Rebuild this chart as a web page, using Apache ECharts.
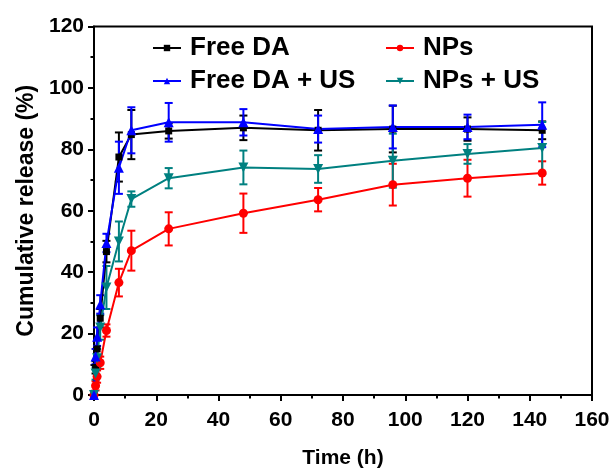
<!DOCTYPE html>
<html>
<head>
<meta charset="utf-8">
<script src="https://cdn.jsdelivr.net/npm/echarts@6/dist/echarts.min.js"></script>
<style>
html,body{margin:0;padding:0;background:#fff;}
#chart{width:609px;height:468px;}
</style>
</head>
<body>
<div id="chart"></div>
<script>
// ---- data ----
var times = [0, 0.5, 1, 2, 4, 8, 12, 24, 48, 72, 96, 120, 144];

var freeDA      = [0, 9, 15, 25, 46.7, 77.5, 84.8, 86, 87, 86.2, 86.6, 86.6, 86.2];
var freeDAErr   = [0, 2, 3, 3, 3.5, 8, 8, 2.5, 4, 6.6, 7.6, 3.8, 2.9];

var freeDAUS    = [0, 12.5, 19, 29.5, 49.5, 74, 86.2, 88.8, 88.8, 86.6, 87.3, 87.3, 88];
var freeDAUSErr = [0, 2.5, 3, 3, 3, 8.5, 7.5, 6.3, 4.3, 4.4, 7, 4, 7.3];

var nps         = [0, 3, 6, 10.5, 21, 36.6, 47, 54.1, 59.2, 63.6, 68.5, 70.6, 72.3];
var npsErr      = [0, 1.5, 2, 2, 2, 4.5, 6.5, 5.4, 6.4, 3.8, 6.8, 6, 3.8];

var npsUS       = [0, 7, 12, 22, 35, 50, 63.8, 70.6, 74.1, 73.6, 76.3, 78.5, 80.4];
var npsUSErr    = [0, 2, 3, 4, 7, 6.5, 2.5, 3.3, 5.5, 4.5, 8.8, 3.2, 8.5];

var xTicks = [0, 20, 40, 60, 80, 100, 120, 140, 160];
var yTicks = [0, 20, 40, 60, 80, 100, 120];

// ---- helpers ----
function pts(vals) { return times.map(function (t, i) { return [t, vals[i]]; }); }
function errs(vals, e) { return times.map(function (t, i) { return [t, vals[i] - e[i], vals[i] + e[i]]; }); }

function errSeries(name, vals, e, color, z) {
  return {
    name: name,
    type: 'custom',
    z: z,
    silent: true,
    encode: { x: 0, y: [1, 2] },
    data: errs(vals, e),
    renderItem: function (params, api) {
      var x = api.value(0), lo = api.value(1), hi = api.value(2);
      if (hi - lo <= 0) return null;
      var p1 = api.coord([x, lo]), p2 = api.coord([x, hi]);
      var w = 4;
      var st = { stroke: color, lineWidth: 2 };
      return {
        type: 'group',
        children: [
          { type: 'line', shape: { x1: p1[0], y1: p1[1], x2: p2[0], y2: p2[1] }, style: st },
          { type: 'line', shape: { x1: p1[0] - w, y1: p1[1], x2: p1[0] + w, y2: p1[1] }, style: st },
          { type: 'line', shape: { x1: p2[0] - w, y1: p2[1], x2: p2[0] + w, y2: p2[1] }, style: st }
        ]
      };
    }
  };
}

function lineSeries(name, vals, color, symbol, size, z, rotate) {
  return {
    name: name,
    type: 'line',
    z: z,
    data: pts(vals),
    symbol: symbol,
    symbolSize: size,
    symbolRotate: rotate || 0,
    showAllSymbol: true,
    lineStyle: { color: color, width: 2 },
    itemStyle: { color: color },
    emphasis: { disabled: true },
    animation: false
  };
}

var font = 'Liberation Sans, Arial, sans-serif';
var axisCommon = {
  axisLine: { show: true, onZero: false, lineStyle: { color: '#000', width: 2 } },
  axisTick: { show: true, inside: false, length: 6, lineStyle: { color: '#000', width: 2 } },
  minorTick: { show: true, splitNumber: 2, length: 3.5, lineStyle: { color: '#000', width: 2 } },
  splitLine: { show: false },
  minorSplitLine: { show: false },
  axisLabel: { color: '#000', fontSize: 21, fontWeight: 'bold', fontFamily: font }
};

var legendText = { color: '#000', fontSize: 26, fontWeight: 'bold', fontFamily: font, padding: [0, 0, 6, 4] };

var option = {
  animation: false,
  backgroundColor: '#fff',
  grid: { left: 94, right: 17, top: 26.5, bottom: 73, show: true, borderColor: '#000', borderWidth: 2,
          containLabel: false, outerBoundsMode: 'none' },
  legend: [
    { left: 147, top: 30, orient: 'vertical', itemWidth: 28, itemHeight: 8, itemGap: 7,
      data: ['Free DA', 'Free DA + US'], textStyle: legendText, selectedMode: false },
    { left: 380, top: 30, orient: 'vertical', itemWidth: 28, itemHeight: 8, itemGap: 7,
      data: ['NPs', 'NPs + US'], textStyle: legendText, selectedMode: false }
  ],
  xAxis: Object.assign({}, axisCommon, {
    type: 'value', min: xTicks[0], max: xTicks[xTicks.length - 1], interval: xTicks[1] - xTicks[0],
    name: 'Time (h)', nameLocation: 'middle', nameGap: 53,
    nameTextStyle: { color: '#000', fontSize: 21, fontWeight: 'bold', fontFamily: font },
    axisLabel: Object.assign({}, axisCommon.axisLabel, { margin: 15 })
  }),
  yAxis: Object.assign({}, axisCommon, {
    type: 'value', min: yTicks[0], max: yTicks[yTicks.length - 1], interval: yTicks[1] - yTicks[0],
    name: 'Cumulative release (%)', nameLocation: 'middle', nameGap: 56,
    nameTextStyle: { color: '#000', fontSize: 23, fontWeight: 'bold', fontFamily: font },
    axisLabel: Object.assign({}, axisCommon.axisLabel, { margin: 10 })
  }),
  series: [
    errSeries('e1', freeDA, freeDAErr, '#000000', 2),
    errSeries('e3', nps, npsErr, '#ff0000', 2),
    errSeries('e4', npsUS, npsUSErr, '#008080', 2),
    errSeries('e2', freeDAUS, freeDAUSErr, '#0000ff', 2),
    lineSeries('Free DA', freeDA, '#000000', 'rect', 7, 3),
    lineSeries('NPs', nps, '#ff0000', 'circle', 9, 3),
    lineSeries('NPs + US', npsUS, '#008080', 'triangle', 10, 3, 180),
    lineSeries('Free DA + US', freeDAUS, '#0000ff', 'triangle', 10, 3)
  ]
};

var chart = echarts.init(document.getElementById('chart'), null, { renderer: 'canvas' });
chart.setOption(option);
</script>
</body>
</html>
